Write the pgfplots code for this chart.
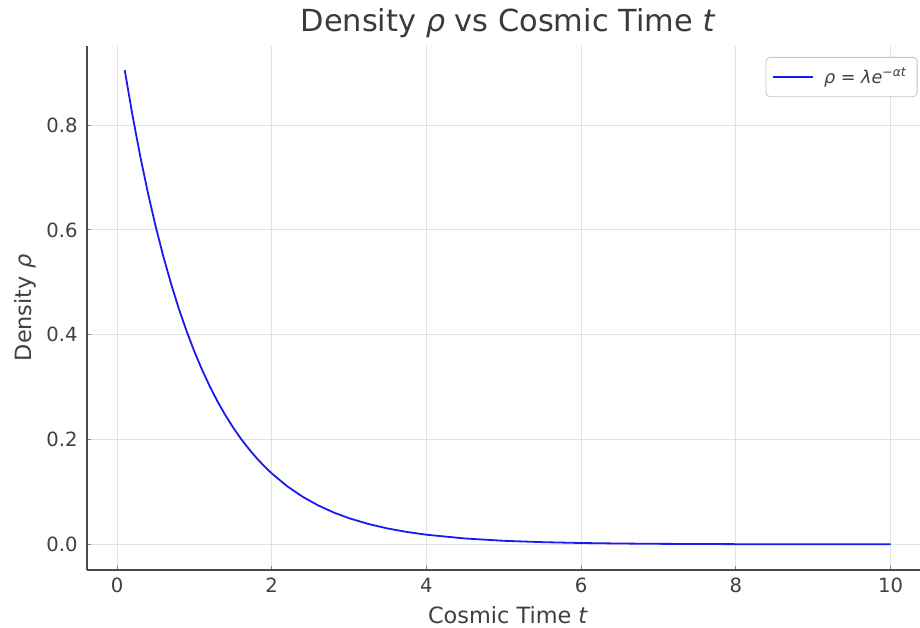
\documentclass[border=0pt]{standalone}
\usepackage{fontspec}
\setmainfont{DejaVu Sans}
\usepackage{pgfplots}
\pgfplotsset{compat=1.18}
\definecolor{txt}{HTML}{404040}
\definecolor{spine}{HTML}{4a4a4a}
\definecolor{gridc}{HTML}{E2E2E2}
\definecolor{lineblue}{HTML}{1A1AF0}
\begin{document}
\begin{tikzpicture}
\begin{axis}[
  scale only axis,
  width=416.5pt, height=262pt,
  xmin=-0.388, xmax=10.38,
  ymin=-0.049, ymax=0.951,
  axis x line=bottom, axis y line=left,
  axis line style={-, draw=spine, line width=0.8pt},
  tick align=inside,
  major tick length=2pt,
  tick style={draw=gray, line width=0.5pt},
  xtick={0,2,4,6,8,10},
  ytick={0,0.2,0.4,0.6,0.8},
  /pgf/number format/assume math mode=true,
  yticklabel style={/pgf/number format/fixed, /pgf/number format/precision=1, /pgf/number format/fixed zerofill, font=\fontsize{9.8pt}{11pt}\selectfont, text=txt, inner sep=0pt, xshift=-4.5pt},
  xticklabel style={font=\fontsize{9.8pt}{11pt}\selectfont, text=txt, inner sep=0pt, yshift=-4pt},
  grid=major,
  major grid style={draw=gridc, line width=0.5pt},
  title={Density \textit{ρ} vs Cosmic Time \textit{t}},
  title style={at={(axis description cs:0.5054,1)}, anchor=base, yshift=1pt, font=\fontsize{15.2pt}{17pt}\selectfont, text=txt!90!black},
  xlabel={Cosmic Time \textit{t}},
  xlabel style={at={(axis description cs:0.5054,0)}, anchor=base, yshift=-27pt, font=\fontsize{11.2pt}{13pt}\selectfont, text=txt},
  ylabel={Density \textit{ρ}},
  ylabel style={at={(axis description cs:-0.0672,0.5)}, rotate=0, anchor=base, font=\fontsize{11.2pt}{13pt}\selectfont, text=txt},
  legend style={at={(axis description cs:0.997,0.979)}, anchor=north east, draw=gridc!70!gray, rounded corners=2pt, fill=white, font=\fontsize{8.8pt}{10pt}\selectfont, text=txt, inner xsep=3pt, inner ysep=3pt, row sep=0pt},
  legend cell align=left,
  legend image code/.code={\draw[#1, line width=1pt] (0pt,0pt) -- (20pt,0pt);},
  clip=false,
]
\addplot[lineblue, line width=0.9pt] coordinates {
(0.1,0.9048) (0.2,0.8187) (0.3,0.7408) (0.4,0.6703) (0.5,0.6065)
(0.6,0.5488) (0.7,0.4966) (0.8,0.4493) (0.9,0.4066) (1.0,0.3679)
(1.1,0.3329) (1.2,0.3012) (1.3,0.2725) (1.4,0.2466) (1.5,0.2231)
(1.6,0.2019) (1.7,0.1827) (1.8,0.1653) (1.9,0.1496) (2.0,0.1353)
(2.2,0.1108) (2.4,0.0907) (2.6,0.0743) (2.8,0.0608) (3.0,0.0498)
(3.25,0.0388) (3.5,0.0302) (3.75,0.0235) (4.0,0.0183) (4.5,0.0111)
(5.0,0.0067) (5.5,0.0041) (6.0,0.0025) (6.5,0.0015) (7.0,0.0009)
(8.0,0.0003) (9.0,0.0001) (10.0,0.0000)
};
\addlegendentry{\hspace{3pt}\textit{ρ} = \textit{λe}\textsuperscript{\textit{−αt}}}
\end{axis}
\pgfresetboundingbox
\path[use as bounding box] ([xshift=-43.5pt,yshift=-29pt]current axis.south west) rectangle ([yshift=23pt]current axis.north east);
\end{tikzpicture}
\end{document}
